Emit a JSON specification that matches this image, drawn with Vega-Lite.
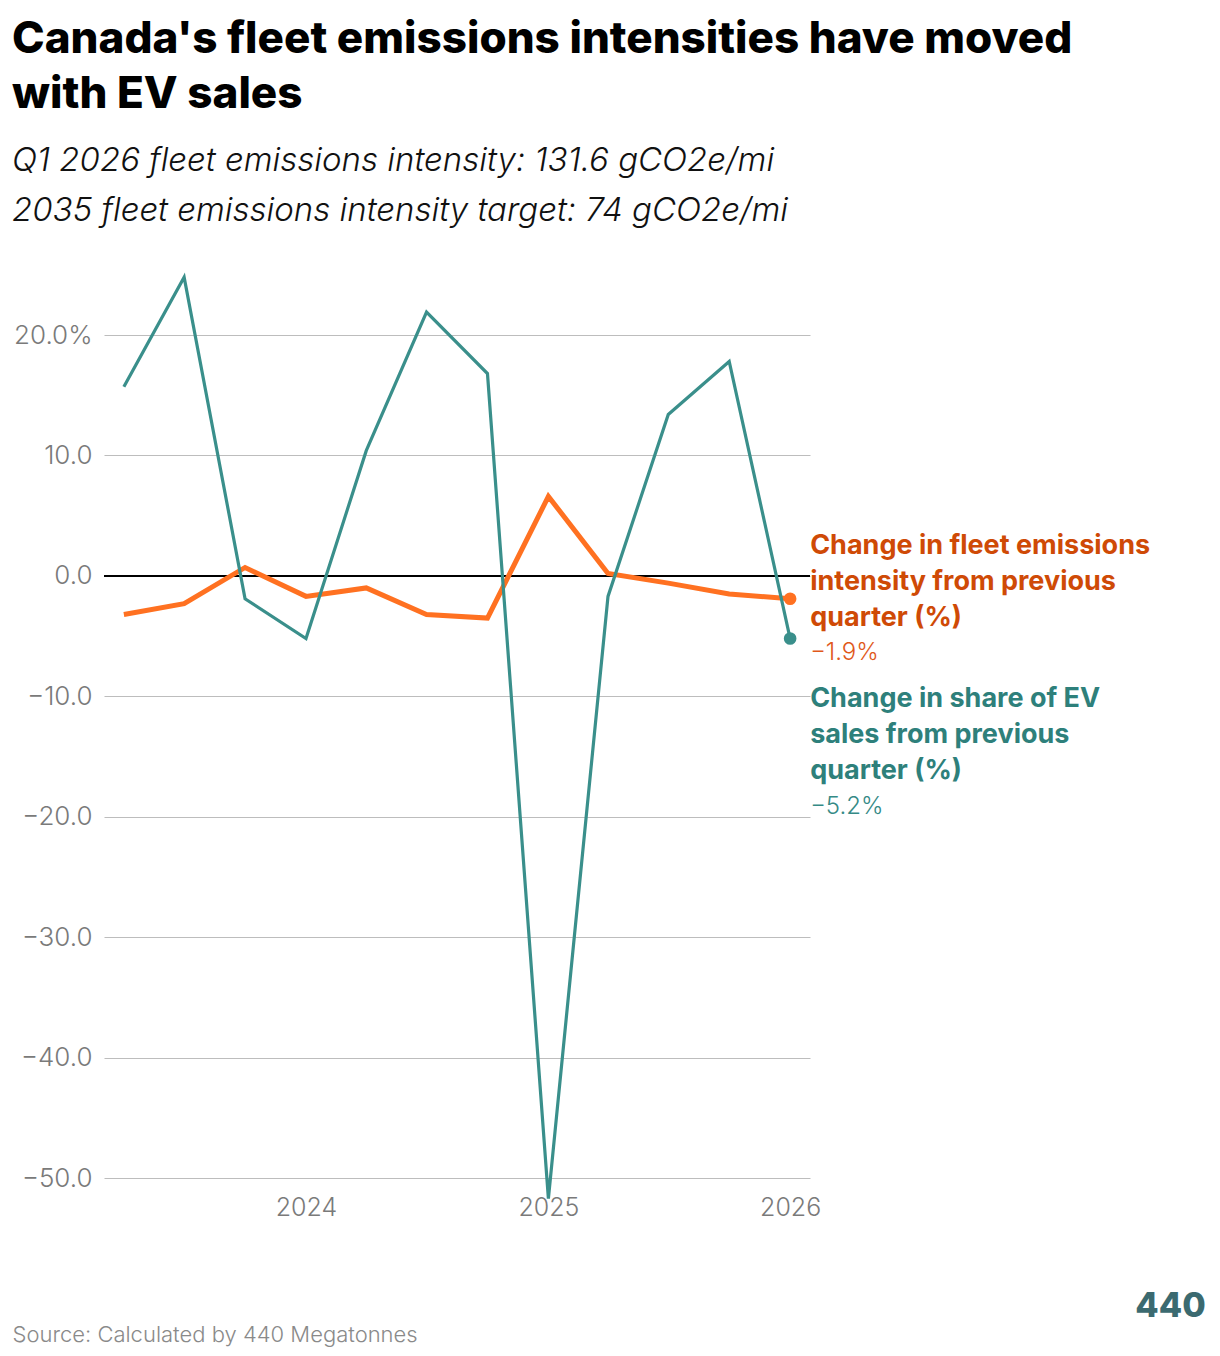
{
  "$schema": "https://vega.github.io/schema/vega-lite/v6.json",
  "description": "Quarterly change in Canada's fleet emissions intensity vs change in EV sales share.",
  "width": 706,
  "height": 925,
  "autosize": {"type": "none"},
  "padding": {"left": 104, "top": 276, "right": 410, "bottom": 155},
  "background": "white",
  "config": {
    "font": "Inter",
    "view": {"stroke": null},
    "text": {"lineBreak": "\n"}
  },
  "title": {
    "text": ["Canada's fleet emissions intensities have moved", "with EV sales"],
    "subtitle": ["Q1 2026 fleet emissions intensity: 131.6 gCO2e/mi", "2035 fleet emissions intensity target: 74 gCO2e/mi"],
    "anchor": "start",
    "frame": "group",
    "dx": -92,
    "offset": 43,
    "font": "Inter",
    "fontSize": 44,
    "fontWeight": 800,
    "color": "#000000",
    "lineHeight": 55,
    "subtitleFont": "Inter",
    "subtitleFontSize": 33,
    "subtitleFontStyle": "italic",
    "subtitleFontWeight": 300,
    "subtitleColor": "#111111",
    "subtitleLineHeight": 50,
    "subtitlePadding": 28
  },
  "datasets": {
    "series": [
      {"date": "2023-04-01", "series": "fleet", "value": -3.2},
      {"date": "2023-07-01", "series": "fleet", "value": -2.3},
      {"date": "2023-10-01", "series": "fleet", "value": 0.7},
      {"date": "2024-01-01", "series": "fleet", "value": -1.7},
      {"date": "2024-04-01", "series": "fleet", "value": -1.0},
      {"date": "2024-07-01", "series": "fleet", "value": -3.2},
      {"date": "2024-10-01", "series": "fleet", "value": -3.5},
      {"date": "2025-01-01", "series": "fleet", "value": 6.6},
      {"date": "2025-04-01", "series": "fleet", "value": 0.2},
      {"date": "2025-07-01", "series": "fleet", "value": -0.6},
      {"date": "2025-10-01", "series": "fleet", "value": -1.5},
      {"date": "2026-01-01", "series": "fleet", "value": -1.9},
      {"date": "2023-04-01", "series": "ev", "value": 15.7},
      {"date": "2023-07-01", "series": "ev", "value": 24.8},
      {"date": "2023-10-01", "series": "ev", "value": -1.9},
      {"date": "2024-01-01", "series": "ev", "value": -5.2},
      {"date": "2024-04-01", "series": "ev", "value": 10.4},
      {"date": "2024-07-01", "series": "ev", "value": 21.9},
      {"date": "2024-10-01", "series": "ev", "value": 16.8},
      {"date": "2025-01-01", "series": "ev", "value": -51.7},
      {"date": "2025-04-01", "series": "ev", "value": -1.7},
      {"date": "2025-07-01", "series": "ev", "value": 13.4},
      {"date": "2025-10-01", "series": "ev", "value": 17.8},
      {"date": "2026-01-01", "series": "ev", "value": -5.2}
    ],
    "labels": [
      {"series": "fleet", "name": "Change in fleet emissions\nintensity from previous\nquarter (%)"},
      {"series": "ev", "name": "Change in share of EV\nsales from previous\nquarter (%)"}
    ]
  },
  "data": {"name": "series"},
  "encoding": {
    "x": {
      "field": "date",
      "type": "temporal",
      "scale": {"type": "utc", "domain": ["2023-03-02", "2026-01-31"]},
      "axis": {
        "title": "Source: Calculated by 440 Megatonnes",
        "titleFont": "Inter",
        "titleFontSize": 22,
        "titleFontWeight": 300,
        "titleColor": "#8a8a8a",
        "titleAnchor": "start",
        "titleAlign": "left",
        "titleBaseline": "alphabetic",
        "titleX": -92,
        "titleY": 140,
        "values": [{"year": 2024, "month": 1, "date": 1, "utc": true}, {"year": 2025, "month": 1, "date": 1, "utc": true}, {"year": 2026, "month": 1, "date": 1, "utc": true}],
        "format": "%Y",
        "formatType": "utc",
        "grid": false,
        "domain": false,
        "ticks": false,
        "labelFlush": false,
        "labelOverlap": false,
        "labelPadding": -6,
        "labelFontSize": 25,
        "labelFontWeight": 300,
        "labelColor": "#7a7a7a"
      }
    },
    "y": {
      "field": "value",
      "type": "quantitative",
      "scale": {"domain": [-51.9, 24.9], "nice": false, "zero": false},
      "axis": {
        "title": "440",
        "titleAngle": 0,
        "titleX": 1066,
        "titleY": 1030,
        "titleAlign": "center",
        "titleBaseline": "middle",
        "titleFont": "Inter",
        "titleFontSize": 34,
        "titleFontWeight": 800,
        "titleColor": "#3b6a70",
        "values": [-50, -40, -30, -20, -10, 0, 10, 20],
        "labelExpr": "datum.value == 20 ? '20.0%' : format(datum.value, '.1f')",
        "grid": true,
        "gridColor": "#bdbdbd",
        "gridWidth": 1.2,
        "domain": false,
        "ticks": false,
        "labelPadding": 12,
        "labelFontSize": 26,
        "labelFontWeight": 300,
        "labelColor": "#7a7a7a"
      }
    }
  },
  "layer": [
    {
      "mark": {"type": "rule", "color": "#000000", "strokeWidth": 1.5},
      "encoding": {"y": {"datum": 0}, "x": null}
    },
    {
      "transform": [{"filter": "datum.series == 'fleet'"}],
      "mark": {"type": "line", "color": "#ff7121", "strokeWidth": 5, "strokeJoin": "miter"}
    },
    {
      "transform": [{"filter": "datum.series == 'ev'"}],
      "mark": {"type": "line", "color": "#3a8f8b", "strokeWidth": 3.2, "strokeJoin": "miter"}
    },
    {
      "transform": [{"filter": "utcyear(datum.date) == 2026"}],
      "mark": {"type": "circle", "opacity": 1, "size": 160},
      "encoding": {
        "color": {
          "field": "series",
          "type": "nominal",
          "scale": {"domain": ["fleet", "ev"], "range": ["#ff7121", "#3a8f8b"]},
          "legend": null
        }
      }
    },
    {
      "transform": [
        {"filter": "utcyear(datum.date) == 2026 && datum.series == 'fleet'"},
        {"lookup": "series", "from": {"data": {"name": "labels"}, "key": "series", "fields": ["name"]}}
      ],
      "mark": {"type": "text", "align": "left", "baseline": "alphabetic", "dx": 20, "dy": -45, "lineHeight": 36, "fontSize": 27, "fontWeight": 700, "color": "#cf4a06"},
      "encoding": {"text": {"field": "name"}}
    },
    {
      "transform": [
        {"filter": "utcyear(datum.date) == 2026 && datum.series == 'fleet'"},
        {"calculate": "format(datum.value, '.1f') + '%'", "as": "label"}
      ],
      "mark": {"type": "text", "align": "left", "baseline": "alphabetic", "dx": 20, "dy": 61, "fontSize": 24, "fontWeight": 300, "color": "#e0581a"},
      "encoding": {"text": {"field": "label"}}
    },
    {
      "transform": [
        {"filter": "utcyear(datum.date) == 2026 && datum.series == 'ev'"},
        {"lookup": "series", "from": {"data": {"name": "labels"}, "key": "series", "fields": ["name"]}}
      ],
      "mark": {"type": "text", "align": "left", "baseline": "alphabetic", "dx": 20, "dy": 68, "lineHeight": 36, "fontSize": 27, "fontWeight": 700, "color": "#2e807b"},
      "encoding": {"text": {"field": "name"}}
    },
    {
      "transform": [
        {"filter": "utcyear(datum.date) == 2026 && datum.series == 'ev'"},
        {"calculate": "format(datum.value, '.1f') + '%'", "as": "label"}
      ],
      "mark": {"type": "text", "align": "left", "baseline": "alphabetic", "dx": 20, "dy": 175, "fontSize": 24, "fontWeight": 300, "color": "#358a86"},
      "encoding": {"text": {"field": "label"}}
    }
  ]
}
